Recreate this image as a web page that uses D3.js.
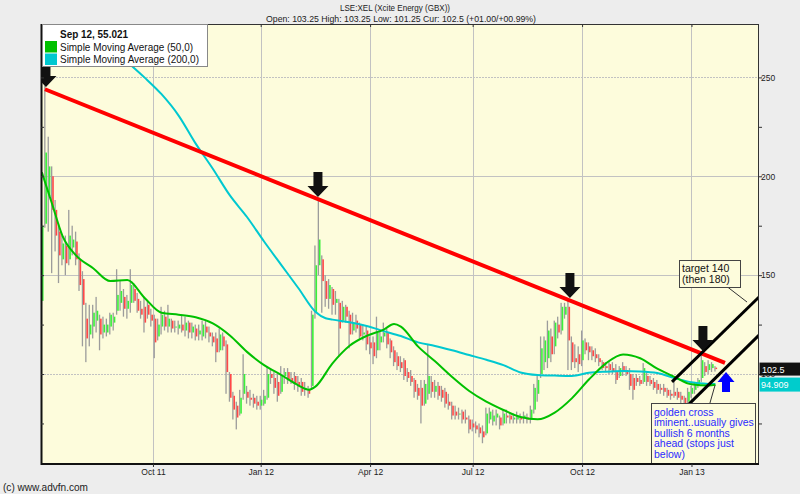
<!DOCTYPE html>
<html><head><meta charset="utf-8">
<script src="https://cdn.jsdelivr.net/npm/d3@7"></script>
<style>
html,body{margin:0;padding:0;background:#ededed;}
svg{display:block;font-family:"Liberation Sans",Arial,sans-serif;}
</style></head><body>
<svg id="chart" width="800" height="494"></svg>
<script>
// ---------------- DATA ----------------
const holidays = ["2011-08-29","2011-12-26","2011-12-27","2012-01-02","2012-04-06","2012-04-09",
  "2012-05-07","2012-06-04","2012-06-05","2012-08-27","2012-12-25","2012-12-26","2013-01-01"];
const firstDay = "2011-07-01", lastDay = "2013-03-01";
const visibleDays = 420;
const quarterDates = ["2011-10-01","2012-01-01","2012-04-01","2012-07-01","2012-10-01","2013-01-01"];
const quarterLabels = ["Oct 11","Jan 12","Apr 12","Jul 12","Oct 12","Jan 13"];
const priceMin = 54.5, priceMax = 277;
const priceTicks = [75,100,125,150,175,200,225,250];
const priceLabels = [100,150,200,250];
const barStep = 2; // one bar every 2 trading days

const open = [137,176,190,200,183,172,158,165,158,164,
167,158,148,128,120,124,127,128,121,121,
124,126,132,136,139,133,136,143,138,133,
134,135,130,128,119,124,129,124,127,124,
123,125,122,126,121,123,120,119,124,121,
119,118,112,119,115,100,89,84,80,90,
91,88,88,86,84,85,88,100,98,96,
91,99,101,98,99,96,96,92,92,94,
131,155,158,147,138,143,136,136,127,134,
130,122,127,125,120,122,116,116,112,116,
119,121,117,112,109,106,107,101,99,97,
93,93,85,90,96,91,94,92,91,86,
84,81,80,81,78,77,75,74,73,71,
70,77,76,78,78,75,79,79,77,77,
78,78,78,77,82,90,100,106,108,119,
114,125,122,130,134,116,108,110,107,116,
114,112,110,108,106,104,105,103,101,99,
104,102,100,98,98,97,96,99,97,96,
95,93,93,92,90,91,91,89,88,86,
90,92,94,98,104,102,103,103.25];
const high = [176,246,220,205,188,176,170,170,183,175,
172,161,152,136,135,135,139,130,129,128,
131,131,153,147,143,140,153,146,141,137,
139,137,133,130,128,134,132,135,128,127,
127,130,129,127,126,125,125,127,127,124,
121,121,123,121,117,101,91,86,92,110,
94,92,90,89,89,92,104,103,101,100,
104,103,103,101,101,99,98,96,94,132,
165,189,160,150,148,144,142,138,137,135,
132,131,130,126,125,124,119,119,129,122,
126,123,118,114,111,109,108,103,102,98,
95,97,97,115,99,97,96,94,93,90,
86,84,83,82,82,79,77,76,75,74,
83,83,82,82,79,82,82,80,80,81,
80,81,80,84,95,99,119,119,127,123,
127,129,136,136,137.5,119,115,114,122,118,
116,114,113,110,107,106,106,106,105,104,
106,104,103,100,100,99,105.5,101,99,98,
97,95,95,93,92,97,93,91,89,93,
94,96,98,110.5,106,107,106,104];
const low = [135,174,172,151,162,146,155,150,155,160,
155,142,114,106,114,118,121,112,118,119,
120,122,130,132,129,128,131,136,131,128,
121,128,124,108,117,120,122,121,121,121,
120,121,119,118,118,117,117,117,118,116,
114,106,111,112,90,86,77,72,79,87,
85,84,83,82,82,84,87,95,90,86,
90,95,95,95,92,91,89,89,88,92,
128,150,131,134,133,130,130,109,126,126,
113,120,121,118,117,112,110,105,108,112,
116,113,108,104,102,101,97,96,94,88,
87,75,84,87,88,88,87,86,83,82,
77,77,77,75,75,70,71,70,68,65,
69,75,74,74,72,74,75,75,75,75,
75,75,75,75,80,86,98,102,103,106,
110,118,120,128,102,102,103,101,104,110,
107,107,106,104,102,101,100,100,95,98,
99,99,92,87,94,94,95,94,94,92,
90,90,89,88,87,88,87,85,83,85,
88,90,93,96,99,100,101,101.25];
const close = [175,212,205,183,170,160,166,156,170,168,
158,145,135,118,125,131,132,120,125,125,
130,129,140,142,133,137,145,137,132,130,
126,130,127,116,125,130,124,128,123,124,
125,122,126,121,124,119,122,125,121,119,
116,111,120,114,101,88,82,78,88,100,
88,87,85,84,87,89,100,98,93,89,
99,101,97,96,95,94,91,93,90,130,
155,168,147,138,145,135,138,123,134,129,
120,126,123,119,121,115,113,109,121,119,
121,115,111,106,104,103,99,98,96,91,
89,84,95,99,91,94,89,88,85,84,
79,79,80,77,77,72,73,72,70,68,
80,81,79,80,74,80,78,77,78,79,
77,79,77,82,93,97,113,117,122,110,
126,121,134,134,117,106,106,105,117,112,
111,109,108,106,103,103,102,101,97,103,
101,100,94,92,96,95,103,96,95,93,
92,92,91,89,89,89,88,87,85,91,
93,95,97,107,101,105,105,102.5];

const sma50Bar = [0,3,6,10,15,20,25,30,35,40,45,50,55,60,65,70,75,78,80,85,90,95,100,103,105,110,115,120,125,130,135,140,145,150,155,160,165,170,175,180,185,190,195,197];
const sma50 = [202,186,170,160,153.5,147,147.5,138.6,131,130,128.7,125.6,119.5,111.2,104.5,99.5,94.3,92,93.6,105.4,114.3,119.3,122.5,125.3,124,114,106.4,98.5,91.4,86,81.8,78.3,77.1,80.5,87.7,97.2,105.4,109.9,108,102.7,98.6,94.8,94.2,94.6];
const sma200Bar = [15,20,25,30,35,40,45,50,55,60,65,70,75,80,83,85,90,95,100,105,110,115,120,125,130,135,140,145,150,155,160,165,170,175,180,185,190,195,197];
const sma200 = [273,265.5,257.8,250,241.5,230.7,216.5,203.8,190.3,179.4,167,155.2,143.5,131.5,128.2,127.5,126.2,124.3,121.7,119.2,116,114.2,112,109.6,107.2,104.5,100.8,99.5,99.2,99,100.6,101.2,101.5,101.3,100.5,98,95.8,95,94.909];

// annotations (trading-day index t, price v)
const trendLine = [[1.8,244],[399.6,105.6]];
const channelUpper = [[368.6,96],[425,143.6]];
const channelLower = [[376,82.6],[425,124.4]];
const sellArrows = [[2.4,245.2],[161.5,189.5],[308.9,138.4],[386.7,111.6]];
const buyArrow = [400.2,101];
const targetNote = {t:372.7, v:157.7, lines:["target 140","(then 180)"]};
const crossNote = {t:356.3, v:85.3, lines:["golden cross","iminent..usually gives","bullish 6 months","ahead (stops just","below)"]};
const targetLink = [[399.6,145],[412.5,136.4]];
const crossLink = [[390.8,85.3],[393.8,94.4]];
const titleText = "LSE:XEL (Xcite Energy (GBX))";
const quoteText = "Open: 103.25 High: 103.25 Low: 101.25 Cur: 102.5 (+01.00/+00.99%)";
const legendTitle = "Sep 12, 55.021";
const legendItems = [["Simple Moving Average (50,0)","#00c000"],["Simple Moving Average (200,0)","#00c8d0"]];
const lastPrice = 102.5, lastSma200 = 94.909;

// ---------------- CHART ----------------
const plot = {left:41,right:759,top:24,bottom:464};
const svg = d3.select("#chart");
const parse = d3.utcParse("%Y-%m-%d"), fmt = d3.utcFormat("%Y-%m-%d");
const hol = new Set(holidays);
const days = d3.utcDays(parse(firstDay), d3.utcDay.offset(parse(lastDay),1))
  .filter(d => d.getUTCDay()%6 !== 0 && !hol.has(fmt(d)));
const quarterIdx = quarterDates.map(s => d3.bisectLeft(days, parse(s)));

const x = d3.scaleLinear().domain([-0.5, visibleDays-0.5]).range([plot.left, plot.right]);
const y = d3.scaleLinear().domain([priceMin, priceMax]).range([plot.bottom, plot.top]);

svg.append("defs").append("clipPath").attr("id","clip").append("rect")
  .attr("x",plot.left).attr("y",plot.top).attr("width",plot.right-plot.left).attr("height",plot.bottom-plot.top);

svg.append("rect").attr("x",plot.left).attr("y",plot.top)
  .attr("width",plot.right-plot.left).attr("height",plot.bottom-plot.top).attr("fill","#fdfcdc");

const g = svg.append("g").attr("clip-path","url(#clip)");

// gridlines
g.selectAll("line.vg").data(quarterIdx).join("line").attr("class","vg")
  .attr("x1",d=>Math.round(x(d))+0.5).attr("x2",d=>Math.round(x(d))+0.5)
  .attr("y1",plot.top).attr("y2",plot.bottom).attr("stroke","#c2c2c2");
g.selectAll("line.hg").data(priceLabels).join("line").attr("class","hg")
  .attr("x1",plot.left).attr("x2",plot.right)
  .attr("y1",d=>Math.round(y(d))+0.5).attr("y2",d=>Math.round(y(d))+0.5)
  .attr("stroke","#c2c2c2").attr("stroke-dasharray",d=>(d===100||d===250)?"2,1":null);

// bars
const bars = close.map((c,i)=>({t:i*barStep,o:open[i],h:high[i],l:low[i],c}));
g.selectAll("rect.wick").data(bars).join("rect").attr("class","wick")
  .attr("x",d=>x(d.t)-1.1).attr("width",1.3)
  .attr("y",d=>y(d.h)).attr("height",d=>Math.max(1,y(d.l)-y(d.h))).attr("fill","#9c9c9c");
g.selectAll("rect.body").data(bars).join("rect").attr("class","body")
  .attr("x",d=>x(d.t)+0.1).attr("width",1.6)
  .attr("y",d=>y(Math.max(d.o,d.c))).attr("height",d=>Math.max(1,Math.abs(y(d.o)-y(d.c))))
  .attr("fill",d=>d.c>=d.o?"#3af03a":"#ff4848");

// moving averages
const smaLine = d3.line().x(d=>x(d[0]*barStep)).y(d=>y(d[1])).curve(d3.curveMonotoneX);
g.append("path").datum(d3.zip(sma200Bar,sma200)).attr("d",smaLine)
  .attr("fill","none").attr("stroke",legendItems[1][1]).attr("stroke-width",2);
g.append("path").datum(d3.zip(sma50Bar,sma50)).attr("d",smaLine)
  .attr("fill","none").attr("stroke",legendItems[0][1]).attr("stroke-width",2);

// trend line
const aLine = d3.line().x(d=>x(d[0])).y(d=>y(d[1]));
g.append("path").datum(trendLine).attr("d",aLine).attr("stroke","#ff0000").attr("stroke-width",4).attr("fill","none");

// channel
[channelUpper, channelLower].forEach(c=>{
  g.append("path").datum(c).attr("d",aLine).attr("stroke","#000").attr("stroke-width",3).attr("fill","none");
});
g.append("path").datum(targetLink).attr("d",aLine).attr("stroke","#333").attr("stroke-width",1).attr("fill","none");

// sell arrows
g.selectAll("path.sell").data(sellArrows).join("path").attr("class","sell")
  .attr("transform",d=>`translate(${x(d[0])},${y(d[1])})`)
  .attr("d","M0,0L-10.5,-11L-4.5,-11L-4.5,-25L4.5,-25L4.5,-11L10.5,-11Z").attr("fill","#111");

// buy arrow
g.append("path").attr("transform",`translate(${x(buyArrow[0])},${y(buyArrow[1])})`)
  .attr("d","M0,0L8.5,10L4,10L4,20L-4,20L-4,10L-8.5,10Z").attr("fill","#0000ff");

// notes
function note(n, w, h, color, lh, fs){
  const gx = x(n.t), gy = y(n.v);
  g.append("rect").attr("x",Math.round(gx)+0.5).attr("y",Math.round(gy)+0.5).attr("width",w).attr("height",h)
    .attr("fill","#fdfcdc").attr("stroke","#444");
  const t = g.append("text").attr("font-size",fs).attr("fill",color);
  n.lines.forEach((s,i)=>t.append("tspan").attr("x",gx+3).attr("y",gy+12.5+i*lh).text(s));
}
note(targetNote, 61, 27, "#111", 11, "10.5px");
note(crossNote, 104, 80, "#2b2bff", 10.5, "10.5px");
g.append("path").datum(crossLink).attr("d",aLine).attr("stroke","#333").attr("stroke-width",1).attr("fill","none");

// border
svg.append("rect").attr("x",plot.left+0.5).attr("y",plot.top+0.5)
  .attr("width",plot.right-plot.left-1).attr("height",plot.bottom-plot.top-1)
  .attr("fill","none").attr("stroke","#333");
svg.append("line").attr("x1",plot.left+0.5).attr("x2",plot.left+0.5).attr("y1",plot.top).attr("y2",plot.bottom+1).attr("stroke","#111").attr("stroke-width",2);
svg.append("line").attr("x1",plot.left).attr("x2",plot.right).attr("y1",plot.bottom).attr("y2",plot.bottom).attr("stroke","#111").attr("stroke-width",2);

// axes
const axR = svg.append("g").attr("transform",`translate(${plot.right},0)`)
  .call(d3.axisRight(y).tickValues(priceTicks).tickSize(3).tickPadding(-1)
    .tickFormat(d=>priceLabels.includes(d)?d:""));
const axL = svg.append("g").attr("transform",`translate(${plot.left},0)`)
  .call(d3.axisLeft(y).tickValues(priceTicks).tickSize(-3).tickFormat(""));
const axB = svg.append("g").attr("transform",`translate(0,${plot.bottom})`)
  .call(d3.axisBottom(x).tickValues(quarterIdx).tickSize(3).tickPadding(2)
    .tickFormat((d,i)=>quarterLabels[i]));
const axT = svg.append("g").attr("transform",`translate(0,${plot.top})`)
  .call(d3.axisTop(x).tickValues(quarterIdx).tickSize(-3).tickFormat(""));
[axR,axL,axB,axT].forEach(a=>{
  a.select(".domain").remove();
  a.selectAll("line").attr("stroke","#333");
  a.selectAll("text").attr("font-size","8.5px").attr("fill","#222").attr("font-family","Liberation Sans, Arial, sans-serif");
});

// price tags
svg.append("rect").attr("x",plot.right+0.5).attr("y",y(lastPrice)-6.5).attr("width",41).attr("height",13).attr("fill","#111");
svg.append("text").attr("x",plot.right+3).attr("y",y(lastPrice)+3.5).attr("font-size","9px").attr("fill","#fff").text(lastPrice);
svg.append("rect").attr("x",plot.right+0.5).attr("y",y(lastSma200)-6.5).attr("width",41).attr("height",14).attr("fill","#00cccc");
svg.append("text").attr("x",plot.right+2).attr("y",y(lastSma200)+4).attr("font-size","9px").attr("fill","#fff").text(lastSma200);

// legend
const lg = svg.append("g");
lg.append("rect").attr("x",42.5).attr("y",24.5).attr("width",165).attr("height",42).attr("fill","#fff").attr("stroke","#888");
lg.append("text").attr("x",60).attr("y",38).attr("font-size","10.5px").attr("font-weight","bold").attr("fill","#111")
  .attr("textLength",68).attr("lengthAdjust","spacingAndGlyphs").text(legendTitle);
legendItems.forEach((it,i)=>{
  lg.append("rect").attr("x",45).attr("y",41+i*12.5).attr("width",12).attr("height",11.5).attr("fill",it[1]);
  lg.append("text").attr("x",60).attr("y",50.5+i*12.5).attr("font-size","10.5px").attr("fill","#111")
    .attr("textLength",i===0?133:139).attr("lengthAdjust","spacingAndGlyphs").text(it[0]);
});

// header
svg.append("text").attr("x",395).attr("y",10.5).attr("text-anchor","middle").attr("font-size","9px").attr("fill","#222")
  .attr("textLength",110).attr("lengthAdjust","spacingAndGlyphs").text(titleText);
svg.append("text").attr("x",401).attr("y",21.5).attr("text-anchor","middle").attr("font-size","9px").attr("fill","#222")
  .attr("textLength",270).attr("lengthAdjust","spacingAndGlyphs").text(quoteText);
svg.append("text").attr("x",3).attr("y",491).attr("font-size","10px").attr("fill","#222")
  .attr("textLength",85).attr("lengthAdjust","spacingAndGlyphs").text("(c) www.advfn.com");
</script>
</body></html>
